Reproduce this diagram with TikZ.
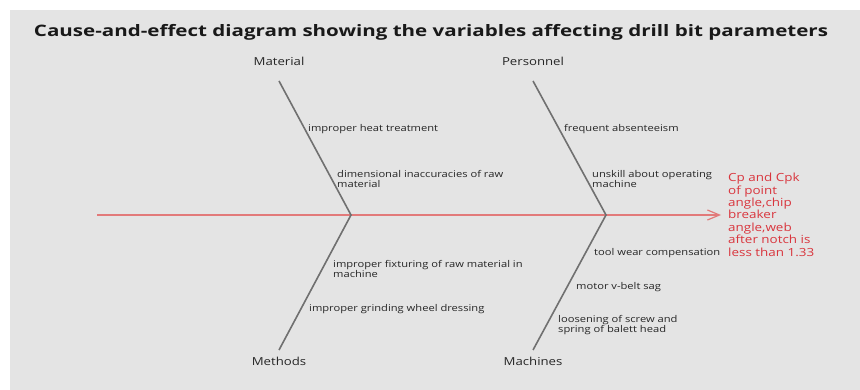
\documentclass[tikz,border=0pt]{standalone}
\usepackage{fontspec}
\setmainfont{Open Sans}
\usetikzlibrary{arrows.meta,positioning}
\definecolor{panelgray}{HTML}{E4E4E4}
\definecolor{bonegray}{HTML}{707070}
\definecolor{spinered}{HTML}{E27A7A}
\definecolor{effectred}{HTML}{D9353D}
\newcommand{\wide}[1]{\scalebox{1.2}[1]{#1}}
\begin{document}
\begin{tikzpicture}[x=1pt,y=-1pt,
    bone/.style={draw=bonegray,line width=1.6pt},
    category/.style={font=\fontsize{11}{13}\selectfont,text=black!85,inner sep=0pt},
    cause/.style={anchor=west,align=left,inner sep=0pt,font=\fontsize{9.3}{10.8}\selectfont,text=black!85}]
  \useasboundingbox (0,0) rectangle (860,390);
  \fill[panelgray] (10,10) rectangle (860,390);
  % title
  \node[font=\fontsize{15.8}{18}\selectfont\bfseries,text=black!90] (title) at (431,32)
    {\scalebox{1.3}[1]{Cause-and-effect diagram showing the variables affecting drill bit parameters}};
  % spine and effect
  \coordinate (tail) at (97,215);
  \coordinate (head) at (721,215);
  \coordinate (joinA) at (351,215);
  \coordinate (joinB) at (606,215);
  \draw[draw=spinered,line width=1.2pt,-{Straight Barb[length=12pt,width=10pt,line width=1.2pt]}] (tail) -- (head);
  \node[anchor=north west,align=left,inner sep=0pt,text=effectred,
        font=\fontsize{11.2}{12.4}\selectfont] (effect) at (728,173)
    {\wide{Cp and Cpk}\\\wide{of point}\\\wide{angle,chip}\\\wide{breaker}\\\wide{angle,web}\\\wide{after notch is}\\\wide{less than 1.33}};
  % categories
  \node[category] (material) at (279,61) {\wide{Material}};
  \node[category] (personnel) at (533,61) {\wide{Personnel}};
  \node[category] (methods) at (279,361) {\wide{Methods}};
  \node[category] (machines) at (533,361) {\wide{Machines}};
  \coordinate (matTop) at (279,81);
  \coordinate (perTop) at (533,81);
  \coordinate (metBot) at (279,350);
  \coordinate (macBot) at (533,350);
  \draw[bone] (matTop) -- (joinA) -- (metBot);
  \draw[bone] (perTop) -- (joinB) -- (macBot);
  % causes
  \node[cause] (heat) at (308,129) {\wide{improper heat treatment}};
  \node[cause] (dimension) at (337,179) {\wide{dimensional inaccuracies of raw}\\\wide{material}};
  \node[cause] (absent) at (564,129) {\wide{frequent absenteeism}};
  \node[cause] (unskill) at (592,179) {\wide{unskill about operating}\\\wide{machine}};
  \node[cause] (fixture) at (333,269) {\wide{improper fixturing of raw material in}\\\wide{machine}};
  \node[cause] (grinding) at (309,309) {\wide{improper grinding wheel dressing}};
  \node[cause] (toolwear) at (594,253) {\wide{tool wear compensation}};
  \node[cause] (vbelt) at (576,287) {\wide{motor v-belt sag}};
  \node[cause] (loosen) at (558,325) {\wide{loosening of screw and}\\\wide{spring of balett head}};
\end{tikzpicture}
\end{document}
